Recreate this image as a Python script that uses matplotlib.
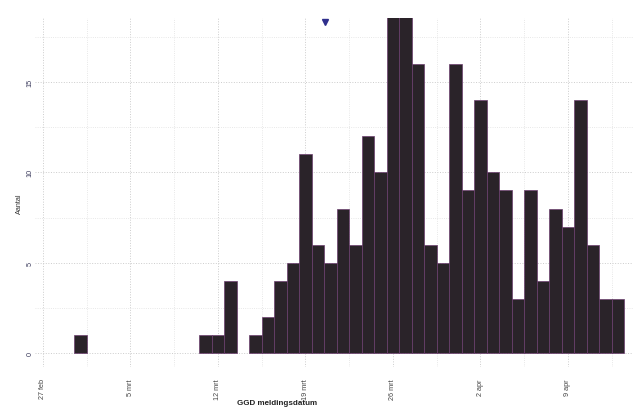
import numpy as np
import pandas as pd
import matplotlib
matplotlib.use("Agg")
import matplotlib.pyplot as plt

plt.rcParams['font.family'] = ['Liberation Sans', 'DejaVu Sans']

# daily counts per GGD report date (2020)
dates = pd.to_datetime(["2020-03-01"] + list(pd.date_range("2020-03-11", "2020-04-13").strftime("%Y-%m-%d")))
counts = [1,
          1, 1, 4, 0, 1, 2, 4, 5, 11, 6, 5, 8, 6, 12, 10, 19, 19, 16, 6, 5, 16,
          9, 14, 10, 9, 3, 9, 4, 8, 7, 14, 6, 3, 3]

tick_dates = pd.to_datetime(["2020-02-27", "2020-03-05", "2020-03-12", "2020-03-19",
                             "2020-03-26", "2020-04-02", "2020-04-09"])
tick_labels = ["27 feb", "5 mrt", "12 mrt", "19 mrt", "26 mrt", "2 apr", "9 apr"]
y_ticks = [0, 5, 10, 15]

# marker at the top of the chart
marker_date = pd.Timestamp("2020-03-20 13:00")
marker_y = 18.3

fig = plt.figure(figsize=(6.38, 4.10), dpi=100)
ax = fig.add_axes([0.055, 0.102, 0.937, 0.852])

# skip empty days so no flat edge line is drawn at zero
counts = np.array(counts)
keep = counts > 0
ax.bar(dates[keep], counts[keep], width=1.0, color='#2a2329', edgecolor='#6b3d6e',
       linewidth=0.5, zorder=3)
ax.plot([marker_date], [marker_y], marker='v', color='#2f2f8c',
        markersize=4.5, linestyle='none', zorder=4, clip_on=False)

# axis limits
ax.set_xlim(pd.Timestamp("2020-02-27") - pd.Timedelta(hours=15),
            pd.Timestamp("2020-04-14") + pd.Timedelta(hours=5))
ax.set_ylim(-0.77, 18.54)

# ticks
ax.set_xticks(tick_dates)
ax.set_xticklabels(tick_labels, rotation=90, fontsize=5.2, color='#444444')
minor_x = list(tick_dates + pd.Timedelta(hours=84))
ax.set_xticks(minor_x, minor=True)
ax.set_yticks(y_ticks)
ax.set_yticklabels([str(v) for v in y_ticks], rotation=90, fontsize=5.2,
                   color='#3a3a5c', va='center')
ax.set_yticks([2.5, 7.5, 12.5, 17.5], minor=True)
ax.tick_params(axis='x', which='both', length=0, pad=8)
ax.tick_params(axis='y', which='both', length=0, pad=1)

# grid
ax.grid(True, which='major', color='#cccccc', linestyle=':', linewidth=0.7, zorder=0)
ax.grid(True, which='minor', color='#e0e0e0', linestyle=':', linewidth=0.6, zorder=0)
for s in ax.spines.values():
    s.set_visible(False)

ax.set_xlabel("GGD meldingsdatum", fontsize=5.8, fontweight='bold', color='#222222')
ax.xaxis.set_label_coords(0.405, -0.09)
ax.set_ylabel("Aantal", fontsize=5.2, color='#333333')
ax.yaxis.set_label_coords(-0.02, 0.47)

fig.savefig("out.png", dpi=100, facecolor='white')
